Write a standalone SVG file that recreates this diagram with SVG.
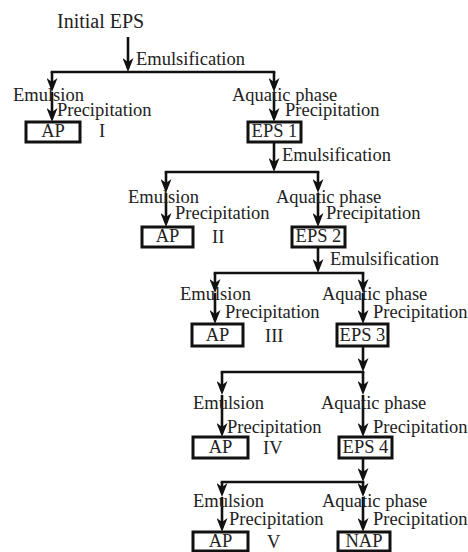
<svg xmlns="http://www.w3.org/2000/svg" width="468" height="552" viewBox="0 0 468 552">
<defs>
<marker id="ah" markerUnits="userSpaceOnUse" markerWidth="14" markerHeight="11" viewBox="0 0 14 11" refX="10" refY="5.5" orient="auto">
<path d="M0,0 L14,5.5 L0,11 L4,5.5 Z" fill="#111"/>
</marker>
<style>
.c{stroke:#111;stroke-width:2.6;fill:none}
.a{marker-end:url(#ah)}
.h{stroke-linecap:square}
.b{fill:#fff;stroke:#111;stroke-width:3}
.m{text-anchor:middle}
</style>
</defs>
<rect width="468" height="552" fill="#fff"/>
<g id="connectors">
<line class="c a" x1="128" y1="37" x2="128" y2="68"/>
<line class="c h" x1="52" y1="72" x2="274" y2="72"/>
<line class="c a" x1="52" y1="72" x2="52" y2="88"/>
<line class="c a" x1="52" y1="92" x2="52" y2="118"/>
<line class="c a" x1="274" y1="72" x2="274" y2="88"/>
<line class="c a" x1="274" y1="92" x2="274" y2="118"/>
<line class="c a" x1="274" y1="142" x2="274" y2="168"/>
<line class="c h" x1="166" y1="172" x2="318" y2="172"/>
<line class="c a" x1="166" y1="172" x2="166" y2="189"/>
<line class="c a" x1="166" y1="193" x2="166" y2="223"/>
<line class="c a" x1="318" y1="172" x2="318" y2="189"/>
<line class="c a" x1="318" y1="193" x2="318" y2="223"/>
<line class="c a" x1="318" y1="247" x2="318" y2="269"/>
<line class="c h" x1="215" y1="273" x2="363" y2="273"/>
<line class="c a" x1="215" y1="273" x2="215" y2="289"/>
<line class="c a" x1="215" y1="293" x2="215" y2="320"/>
<line class="c a" x1="363" y1="273" x2="363" y2="289"/>
<line class="c a" x1="363" y1="293" x2="363" y2="320"/>
<line class="c a" x1="363" y1="346" x2="363" y2="368"/>
<line class="c h" x1="222" y1="372" x2="363" y2="372"/>
<line class="c a" x1="222" y1="372" x2="222" y2="391"/>
<line class="c a" x1="222" y1="395" x2="222" y2="433"/>
<line class="c a" x1="363" y1="372" x2="363" y2="391"/>
<line class="c a" x1="363" y1="395" x2="363" y2="433"/>
<line class="c a" x1="363" y1="458" x2="363" y2="478"/>
<line class="c h" x1="222" y1="482" x2="363" y2="482"/>
<line class="c a" x1="222" y1="482" x2="222" y2="493"/>
<line class="c a" x1="222" y1="497" x2="222" y2="528"/>
<line class="c a" x1="363" y1="482" x2="363" y2="493"/>
<line class="c a" x1="363" y1="497" x2="363" y2="528"/>
</g>
<g font-family="Liberation Serif, Times New Roman, DejaVu Serif, serif" font-size="18.5" fill="#222">
<g id="labels">
<text x="57" y="28" font-size="20">Initial EPS</text>
<text x="136" y="65">Emulsification</text>
<text x="13" y="101">Emulsion</text>
<text x="232" y="101">Aquatic phase</text>
<text x="57" y="116">Precipitation</text>
<text x="285" y="116">Precipitation</text>
<text x="99" y="137">I</text>
<text x="282" y="161">Emulsification</text>
<text x="128" y="203">Emulsion</text>
<text x="276" y="203">Aquatic phase</text>
<text x="175" y="219">Precipitation</text>
<text x="326" y="219">Precipitation</text>
<text x="212" y="243">II</text>
<text x="330" y="265">Emulsification</text>
<text x="180" y="300">Emulsion</text>
<text x="322" y="300">Aquatic phase</text>
<text x="225" y="318">Precipitation</text>
<text x="373" y="318">Precipitation</text>
<text x="265" y="342">III</text>
<text x="193" y="409">Emulsion</text>
<text x="321" y="409">Aquatic phase</text>
<text x="227" y="433">Precipitation</text>
<text x="373" y="433">Precipitation</text>
<text x="263" y="454">IV</text>
<text x="193" y="507">Emulsion</text>
<text x="322" y="507">Aquatic phase</text>
<text x="229" y="525">Precipitation</text>
<text x="373" y="525">Precipitation</text>
<text x="267" y="548">V</text>
</g>
<g id="ap1"><rect class="b" x="26" y="122" width="54" height="20"/><text class="m" x="53" y="137">AP</text></g>
<g id="eps1"><rect class="b" x="248" y="122" width="53" height="20"/><text class="m" x="274.5" y="137">EPS 1</text></g>
<g id="ap2"><rect class="b" x="142" y="227" width="51" height="20"/><text class="m" x="167.5" y="242">AP</text></g>
<g id="eps2"><rect class="b" x="292" y="227" width="53" height="20"/><text class="m" x="318.5" y="242">EPS 2</text></g>
<g id="ap3"><rect class="b" x="192" y="324" width="51" height="22"/><text class="m" x="217.5" y="341">AP</text></g>
<g id="eps3"><rect class="b" x="337" y="324" width="51" height="22"/><text class="m" x="362.5" y="341">EPS 3</text></g>
<g id="ap4"><rect class="b" x="193" y="437" width="55" height="21"/><text class="m" x="220.5" y="453">AP</text></g>
<g id="eps4"><rect class="b" x="339" y="437" width="53" height="21"/><text class="m" x="365.5" y="453">EPS 4</text></g>
<g id="ap5"><rect class="b" x="193" y="532" width="55" height="19"/><text class="m" x="220.5" y="547">AP</text></g>
<g id="nap"><rect class="b" x="338" y="532" width="52" height="19"/><text class="m" x="364" y="547">NAP</text></g>
</g>
</svg>
